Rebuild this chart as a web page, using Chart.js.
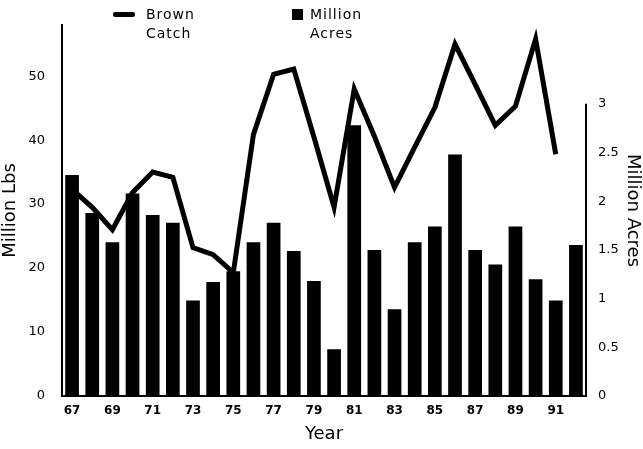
<!DOCTYPE html>
<html>
<head>
<meta charset="utf-8">
<script src="https://cdn.jsdelivr.net/npm/chart.js@4.4.1/dist/chart.umd.min.js"></script>
<style>
  body { margin: 0; background: #fff; }
  #wrap { position: relative; width: 643px; height: 449px; }
  .legend { position: absolute; font-family: 'DejaVu Sans', sans-serif; font-size: 14px; line-height: 19px; letter-spacing: 1px; color: #000; }
  .swatch-line { position: absolute; left: 113px; top: 12px; width: 22px; height: 5px; background: #000; border-radius: 2px; }
  .swatch-box { position: absolute; left: 292px; top: 9px; width: 11px; height: 11px; background: #000; }
</style>
</head>
<body>
<div id="wrap">
  <canvas id="chart"></canvas>
  <div class="swatch-line"></div>
  <div class="legend" style="left:146px; top:5px;">Brown<br>Catch</div>
  <div class="swatch-box"></div>
  <div class="legend" style="left:310px; top:5px;">Million<br>Acres</div>
</div>
<script>
const years = ['67','68','69','70','71','72','73','74','75','76','77','78','79',
               '80','81','82','83','84','85','86','87','88','89','90','91','92'];
// Brown Catch, million lbs (left axis)
const brownCatch = [32.3, 29.5, 26.0, 31.8, 35.0, 34.2, 23.2, 22.1, 19.3, 40.9, 50.3, 51.1, 40.5,
                    29.5, 48.0, 40.6, 32.6, 38.9, 45.1, 55.0, 48.7, 42.3, 45.3, 55.8, 37.8, null];
// Million Acres (right axis)
const millionAcres = [2.27, 1.88, 1.58, 2.08, 1.86, 1.78, 0.98, 1.17, 1.28, 1.58, 1.78, 1.49, 1.18,
                      0.48, 2.78, 1.50, 0.89, 1.58, 1.74, 2.48, 1.50, 1.35, 1.74, 1.20, 0.98, 1.55];
const lbsTicks = [0, 10, 20, 30, 40, 50];
const acreTicks = [0, 0.5, 1, 1.5, 2, 2.5, 3];

const font = 'DejaVu Sans';

// right axis line only runs up to the 3 tick
const rightAxisLine = {
  id: 'rightAxisLine',
  afterDraw(chart) {
    const y1 = chart.scales.y1;
    const c = chart.ctx;
    c.save();
    c.strokeStyle = '#000';
    c.lineWidth = 2;
    c.beginPath();
    c.moveTo(y1.left, y1.getPixelForValue(3));
    c.lineTo(y1.left, y1.getPixelForValue(0));
    c.stroke();
    c.restore();
  }
};

new Chart(document.getElementById('chart'), {
  type: 'bar',
  data: {
    labels: years,
    datasets: [{
      type: 'line',
      label: 'Brown Catch',
      data: brownCatch,
      yAxisID: 'y',
      borderColor: '#000',
      borderWidth: 5,
      pointRadius: 0,
      tension: 0,
      order: 0
    }, {
      type: 'bar',
      label: 'Million Acres',
      data: millionAcres,
      yAxisID: 'y1',
      backgroundColor: '#000',
      categoryPercentage: 1,
      barPercentage: 0.68,
      order: 1
    }]
  },
  options: {
    responsive: true,
    maintainAspectRatio: false,
    animation: false,
    layout: { padding: { top: 25, left: 0, right: 0, bottom: 0 } },
    plugins: {
      legend: { display: false },
      tooltip: { enabled: false }
    },
    scales: {
      x: {
        grid: { display: false, drawTicks: false },
        border: { display: true, color: '#000', width: 2 },
        ticks: {
          color: '#000',
          font: { family: font, size: 12, weight: 'bold' },
          padding: 8,
          maxRotation: 0,
          autoSkip: false,
          callback: (v, i) => (i % 2 === 0 ? years[i] : '')
        },
        title: { display: true, text: 'Year', color: '#000', font: { family: font, size: 18 }, padding: { top: 2 } },
        afterFit: s => { s.height = 53; }
      },
      y: {
        position: 'left',
        min: 0,
        max: 58,
        grid: { display: false, drawTicks: false },
        border: { display: true, color: '#000', width: 2 },
        afterBuildTicks: s => { s.ticks = lbsTicks.map(v => ({ value: v })); },
        ticks: { color: '#000', font: { family: font, size: 13 }, padding: 17 },
        title: { display: true, text: 'Million Lbs', color: '#000', font: { family: font, size: 18 }, padding: 0 },
        afterFit: s => { s.width = 62; }
      },
      y1: {
        position: 'right',
        min: 0,
        max: 3.81,
        grid: { display: false, drawTicks: false },
        border: { display: false },
        afterBuildTicks: s => { s.ticks = acreTicks.map(v => ({ value: v })); },
        ticks: { color: '#000', font: { family: font, size: 13 }, padding: 12, callback: v => String(v) },
        title: { display: true, text: 'Million Acres', color: '#000', font: { family: font, size: 18 }, padding: 0 },
        afterFit: s => { s.width = 57; }
      }
    }
  },
  plugins: [rightAxisLine]
});
</script>
</body>
</html>
